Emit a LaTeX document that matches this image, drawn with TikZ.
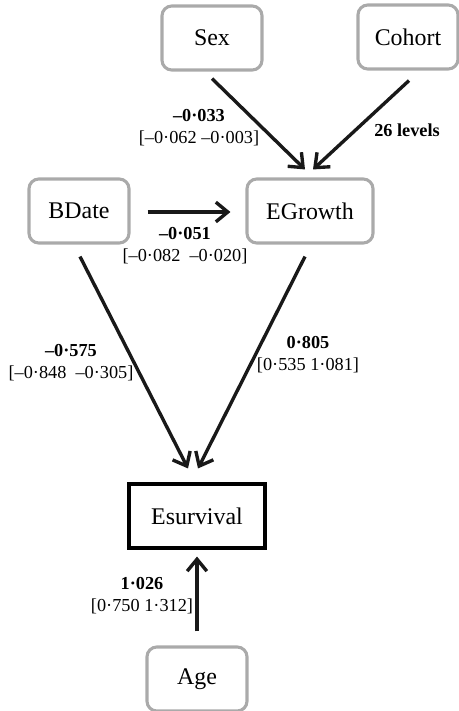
\documentclass[tikz,border=0pt]{standalone}
\usepackage{fontspec}
\setmainfont{Liberation Serif}
\usetikzlibrary{arrows.meta, positioning, calc}
\definecolor{boxgray}{RGB}{170,170,170}
\newcommand{\pdot}{·}
\tikzset{
    block_gray/.style={rectangle, draw=boxgray, line width=2.2pt, rounded corners=7pt, minimum width=2.5cm, minimum height=1.6cm, font=\fontsize{17}{20}\selectfont},
    block_black/.style={rectangle, draw=black, line width=2.2pt, minimum width=3.4cm, minimum height=1.6cm, font=\fontsize{17}{20}\selectfont},
    lab/.style={align=center, font=\fontsize{13}{15.5}\selectfont, inner sep=0pt},
    arrow/.style={-{Straight Barb[length=8.5pt, width=14pt]}, line width=2.4pt, draw=black!90}
}
\begin{document}
\begin{tikzpicture}[x=0.025cm, y=-0.025cm]

    \useasboundingbox (0,0) rectangle (459,711);

    % Boxes
    \node[block_gray] (sex) at (212,38) {Sex};
    \node[block_gray] (cohort) at (408,37) {Cohort};
    \node[block_gray] (bdate) at (79,211) {BDate};
    \node[block_gray, minimum width=3.15cm] (egrowth) at (310,211) {EGrowth};
    \node[block_black] (esurv) at (197,516) {Esurvival};
    \node[block_gray] (age) at (197,679) {Age};

    % Arrows
    \draw[arrow] ($(sex.south)+(0,7)$) -- ($(egrowth.north)+(-5,-8)$);
    \draw[arrow] ($(cohort.south)+(1,10)$) -- ($(egrowth.north)+(3,-8)$);
    \draw[arrow] ($(bdate.east)+(17,1)$) -- ($(egrowth.west)+(-15,1)$);
    \draw[arrow] ($(bdate.south)+(1,12)$) -- ($(esurv.north)+(-9,-14)$);
    \draw[arrow] ($(egrowth.south)+(-5,12)$) -- ($(esurv.north)+(1,-14)$);
    \draw[arrow] ($(age.north)+(0,-14)$) -- ($(esurv.south)+(0,7)$);

    % Labels
    \node[lab] (l_sex) at (199,128) {\textbf{–0\pdot033}\\{[}–0\pdot062 –0\pdot003{]}};
    \node[lab] (l_cohort) at (407,130) {\textbf{26 levels}};
    \node[lab] (l_bdate) at (185,246) {\textbf{–0\pdot051}\\{[}–0\pdot082\enskip–0\pdot020{]}};
    \node[lab] (l_bsurv) at (71,363) {\textbf{–0\pdot575}\\{[}–0\pdot848\enskip–0\pdot305{]}};
    \node[lab] (l_egrowth) at (308,355) {\textbf{0\pdot805}\\{[}0\pdot535 1\pdot081{]}};
    \node[lab] (l_age) at (142,596) {\textbf{1\pdot026}\\{[}0\pdot750 1\pdot312{]}};

\end{tikzpicture}
\end{document}
